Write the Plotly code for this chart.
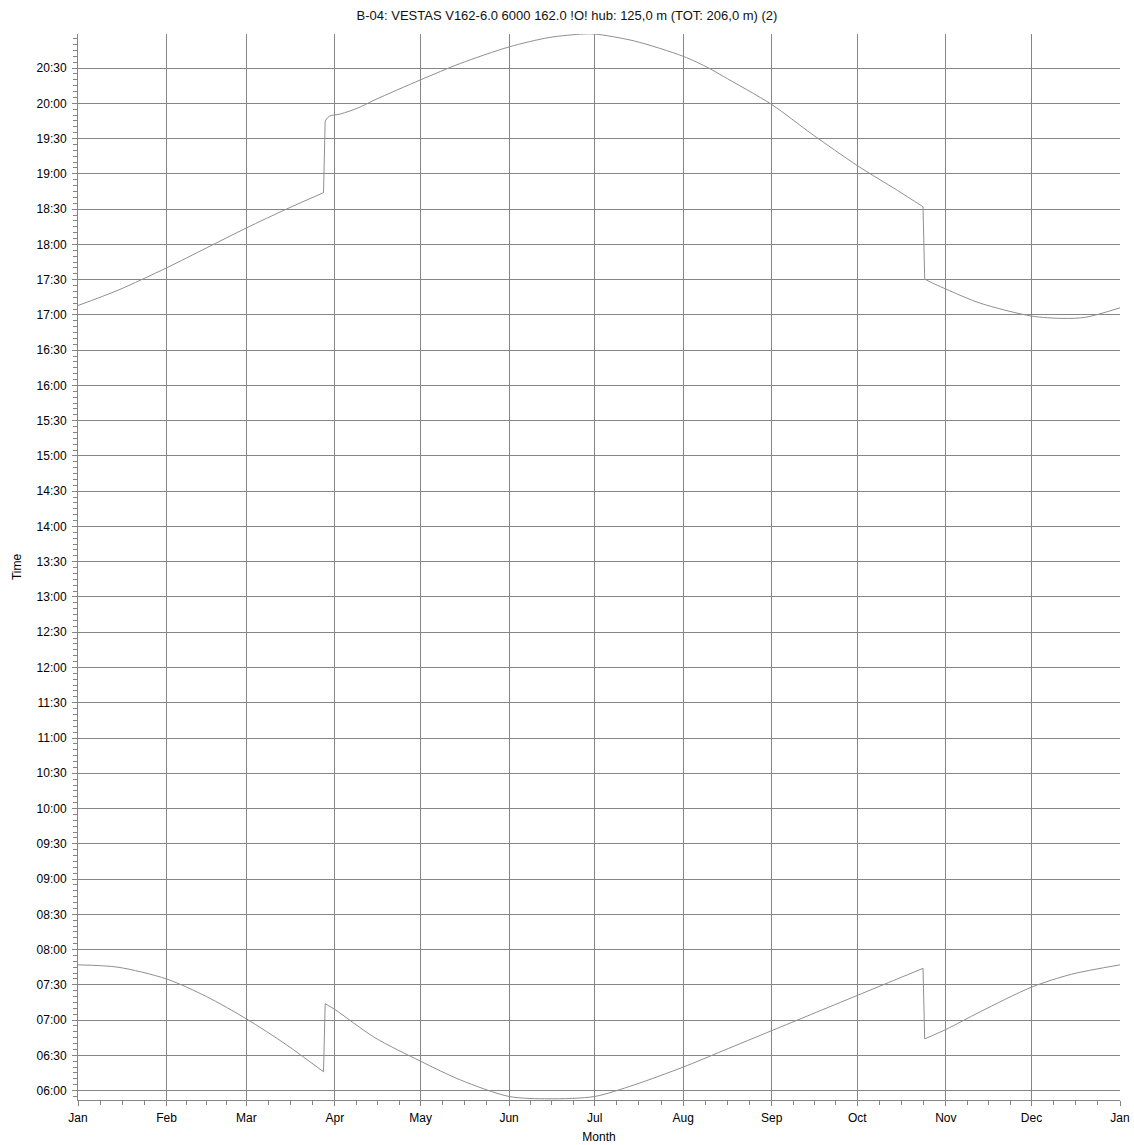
import plotly.graph_objects as go
import pandas as pd

TITLE = "B-04: VESTAS V162-6.0 6000 162.0 !O! hub: 125,0 m (TOT: 206,0 m) (2)"

# Sunset (upper curve)
sunset_dates = [
    "2023-01-01", "2023-01-15", "2023-02-01", "2023-02-15", "2023-03-01", "2023-03-15",
    "2023-03-28 00:00", "2023-03-28 14:00", "2023-03-30", "2023-04-03", "2023-04-09",
    "2023-04-15", "2023-05-01", "2023-05-15", "2023-06-01", "2023-06-15", "2023-06-27",
    "2023-07-01", "2023-07-15", "2023-08-01", "2023-08-10", "2023-08-15", "2023-09-01",
    "2023-09-15", "2023-10-01", "2023-10-15", "2023-10-24 00:00", "2023-10-24 14:00",
    "2023-10-25", "2023-11-01", "2023-11-13", "2023-12-01", "2023-12-12", "2023-12-20",
    "2024-01-01",
]
sunset_times = [
    "17:08", "17:21", "17:40", "17:57", "18:14", "18:30",
    "18:44", "19:45", "19:49", "19:51", "19:56",
    "20:03", "20:20", "20:34", "20:48", "20:56", "20:59",
    "20:59", "20:53", "20:40", "20:30", "20:23", "19:59",
    "19:34", "19:07", "18:46", "18:32", "17:31",
    "17:30", "17:22", "17:10", "16:59", "16:57", "16:58",
    "17:06",
]

# Sunrise (lower curve)
sunrise_dates = [
    "2023-01-01", "2023-01-15", "2023-02-01", "2023-02-15", "2023-03-01", "2023-03-15",
    "2023-03-28 00:00", "2023-03-28 14:00", "2023-04-01", "2023-04-15", "2023-05-01",
    "2023-05-15", "2023-06-01", "2023-06-15", "2023-07-01", "2023-07-15", "2023-08-01",
    "2023-08-15", "2023-09-01", "2023-09-15", "2023-10-01", "2023-10-15",
    "2023-10-24 00:00", "2023-10-24 14:00", "2023-11-01", "2023-11-13", "2023-12-01",
    "2023-12-15", "2024-01-01",
]
sunrise_times = [
    "07:47", "07:45", "07:35", "07:20", "07:01", "06:39",
    "06:16", "07:14", "07:09", "06:45", "06:25",
    "06:09", "05:55", "05:53", "05:55", "06:05", "06:20",
    "06:34", "06:51", "07:05", "07:21", "07:35",
    "07:44", "06:44", "06:52", "07:07", "07:28",
    "07:39", "07:47",
]

month_labels = ["Jan", "Feb", "Mar", "Apr", "May", "Jun", "Jul", "Aug", "Sep", "Oct", "Nov", "Dec", "Jan"]

LINE_COLOR = "#8f8f8f"
GRID_COLOR = "#858585"
FONT = "Liberation Sans, Arial, sans-serif"

FIG_W, FIG_H = 1134, 1145


def to_y(times):
    return ["1970-01-01 " + t for t in times]


def add_curve(fig, dates, times):
    d = pd.to_datetime(dates, format="mixed")
    ys = to_y(times)
    y = pd.to_datetime(ys, format="mixed")
    jumps = []
    for i in range(len(d) - 1):
        dt_days = (d[i + 1] - d[i]).total_seconds() / 86400
        dy_min = abs((y[i + 1] - y[i]).total_seconds() / 60)
        if dt_days < 1 and dy_min > 30:
            jumps.append(i)
    starts = [0] + [j + 1 for j in jumps]
    ends = [j for j in jumps] + [len(d) - 1]
    for s, e in zip(starts, ends):
        fig.add_trace(go.Scatter(x=dates[s:e + 1], y=ys[s:e + 1], mode="lines",
                                 line=dict(color=LINE_COLOR, width=1, shape="spline", smoothing=0.8),
                                 hoverinfo="skip", showlegend=False))
    for j in jumps:
        fig.add_trace(go.Scatter(x=dates[j:j + 2], y=ys[j:j + 2], mode="lines",
                                 line=dict(color=LINE_COLOR, width=1),
                                 hoverinfo="skip", showlegend=False))


fig = go.Figure()
add_curve(fig, sunset_dates, sunset_times)
add_curve(fig, sunrise_dates, sunrise_times)

month_starts = pd.date_range("2023-01-01", "2024-01-01", freq="MS")
minor_vals = []
for i in range(len(month_starts) - 1):
    a, b = month_starts[i], month_starts[i + 1]
    for k in (1, 2, 3):
        minor_vals.append((a + (b - a) * k / 4).strftime("%Y-%m-%d %H:%M:%S"))
major_vals = [m.strftime("%Y-%m-%d") for m in month_starts]

fig.update_layout(
    width=FIG_W, height=FIG_H,
    margin=dict(l=78, r=14, t=34, b=45),
    paper_bgcolor="white", plot_bgcolor="white",
    font=dict(family=FONT, size=12, color="black"),
    title=dict(text=TITLE, x=567 / FIG_W, xref="container", xanchor="center",
               y=1 - 15 / FIG_H, yref="container", yanchor="middle",
               font=dict(family=FONT, size=13, color="#111111")),
    showlegend=False,
)

fig.update_xaxes(
    type="date",
    range=["2023-01-01", "2024-01-01"],
    tickmode="array",
    tickvals=major_vals,
    ticktext=month_labels,
    showgrid=True, gridcolor=GRID_COLOR, gridwidth=1,
    showline=True, linecolor=GRID_COLOR, linewidth=1,
    ticks="outside", ticklen=5, tickcolor=GRID_COLOR,
    ticklabelstandoff=2,
    minor=dict(tickmode="array", tickvals=minor_vals, ticks="outside", ticklen=4,
               tickcolor=GRID_COLOR, showgrid=False),
    tickfont=dict(size=12),
    title=dict(text="Month", standoff=8, font=dict(size=12)),
    zeroline=False,
    automargin=False,
)

fig.update_yaxes(
    type="date",
    range=["1970-01-01 05:52", "1970-01-01 20:59"],
    tick0="1970-01-01 00:00",
    dtick=30 * 60 * 1000,
    tickformat="%H:%M",
    showgrid=True, gridcolor=GRID_COLOR, gridwidth=1,
    showline=True, linecolor=GRID_COLOR, linewidth=1,
    ticks="outside", ticklen=5, tickcolor=GRID_COLOR,
    ticklabelstandoff=3,
    minor=dict(dtick=5 * 60 * 1000, ticks="outside", ticklen=4,
               tickcolor=GRID_COLOR, showgrid=False),
    tickfont=dict(size=12),
    title=dict(text="Time", standoff=12, font=dict(size=12)),
    zeroline=False,
    automargin=False,
)

# remove the default page margin so the figure fills the window exactly
fig.write_html("out.html", config={"displayModeBar": False},
               post_script="document.body.style.margin='0';document.body.style.overflow='hidden';")
